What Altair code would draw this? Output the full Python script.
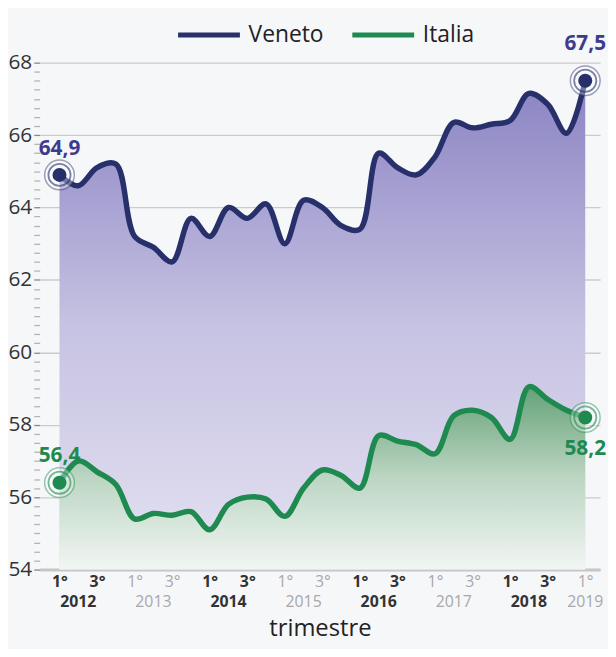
import altair as alt
import pandas as pd

series_names = ["Veneto", "Italia"]
series_colors = ["#27306b", "#1e8a4f"]
label_colors = ["#3d3b8e", "#1e8a4f"]
quarter_index = list(range(29))
veneto = [64.9, 64.6, 65.1, 65.2, 63.2, 62.9, 62.5, 63.7, 63.2, 64.0,
          63.7, 64.1, 63.0, 64.2, 64.0, 63.5, 63.4, 65.5, 65.1, 64.9,
          65.4, 66.35, 66.2, 66.3, 66.4, 67.15, 66.85, 66.05, 67.5]
italia = [56.4, 57.0, 56.7, 56.35, 55.4, 55.55, 55.5, 55.6, 55.1, 55.8,
          56.0, 55.95, 55.47, 56.25, 56.75, 56.6, 56.25, 57.7, 57.55, 57.45,
          57.2, 58.25, 58.4, 58.2, 57.6, 59.05, 58.7, 58.4, 58.2]
year_labels = ["2012", "2013", "2014", "2015", "2016", "2017", "2018", "2019"]
year_pos = [1, 5, 9, 13, 17, 21, 25, 28]
end_series = ["Veneto", "Veneto", "Italia", "Italia"]
end_q = [0, 28, 0, 28]
end_values = [64.9, 67.5, 56.4, 58.2]
end_text = ["64,9", "67,5", "56,4", "58,2"]
y_ticks = [round(54 + 0.25 * k, 2) for k in range(57)]
x_ticks = list(range(0, 29, 2))

FONT = "Open Sans"
W, H = 566, 512
CURVE = "catmull-rom"

df = pd.DataFrame({
    "q": quarter_index * 2,
    "serie": ["Veneto"] * 29 + ["Italia"] * 29,
    "value": veneto + italia,
})
ends = pd.DataFrame({"serie": end_series, "q": end_q, "value": end_values, "label": end_text})
years = pd.DataFrame({"year": year_labels, "q": year_pos,
                      "strong": [i % 2 == 0 for i in range(len(year_labels))]})

xscale = alt.Scale(domain=[-1.055, 28.79], nice=False, zero=False)
yscale = alt.Scale(domain=[54, 68], nice=False, zero=False)

x_axis = alt.Axis(
    values=x_ticks,
    labelExpr="datum.value % 4 === 0 ? '1°' : '3°'",
    labelFontSize=16, labelFont=FONT,
    labelColor={"condition": {"test": "floor(datum.value / 4) % 2 === 0", "value": "#333333"}, "value": "#a8a8a8"},
    labelFontWeight={"condition": {"test": "floor(datum.value / 4) % 2 === 0", "value": "bold"}, "value": "normal"},
    labelPadding=4, ticks=False, grid=False,
    domain=True, domainColor="#c6c6c6", domainWidth=3,
    title="trimestre", titleFontSize=24, titleFont=FONT, titleFontWeight="normal",
    titleColor="#222222", titlePadding=28, labelOverlap=False,
)
y_axis = alt.Axis(
    values=y_ticks,
    labelExpr="datum.value % 2 === 0 ? format(datum.value, 'd') : ''",
    labelFontSize=21, labelFont=FONT, labelColor="#333333", labelPadding=2,
    labelOverlap=False,
    gridOpacity={"condition": {"test": "datum.value % 2 === 0", "value": 1}, "value": 0},
    gridColor="#cccccc", gridWidth=1.3,
    tickColor={"condition": {"test": "datum.value % 2 === 0", "value": "#888888"}, "value": "#b5b5b5"},
    tickSize=6, tickWidth=1.3, domain=False, title=None,
)

base = alt.Chart(df)
X = alt.X("q:Q", scale=xscale, axis=x_axis)
Y = alt.Y("value:Q", scale=yscale, axis=y_axis)

grad_v = alt.LinearGradient(gradient="linear", x1=0, x2=0, y1=0, y2=1, stops=[
    alt.GradientStop(color="#8a83c3", offset=0),
    alt.GradientStop(color="#c6c2e2", offset=0.5),
    alt.GradientStop(color="#e4e2f2", offset=1),
])
grad_i = alt.LinearGradient(gradient="linear", x1=0, x2=0, y1=0, y2=1, stops=[
    alt.GradientStop(color="#65a177", offset=0),
    alt.GradientStop(color="#bcd6c3", offset=0.5),
    alt.GradientStop(color="#f2f6f3", offset=1),
])

area_v = base.transform_filter("datum.serie === 'Veneto'").mark_area(
    color=grad_v, interpolate=CURVE).encode(x=X, y=Y, y2=alt.datum(54))
area_i = base.transform_filter("datum.serie === 'Italia'").mark_area(
    color=grad_i, interpolate=CURVE).encode(x=X, y=Y, y2=alt.datum(54))

lines = base.mark_line(strokeWidth=5.5, interpolate=CURVE).encode(
    x=X, y=Y,
    color=alt.Color("serie:N", scale=alt.Scale(domain=series_names, range=series_colors),
                    legend=alt.Legend(
                        orient="none", legendX=137, legendY=-62, direction="horizontal",
                        title=None, symbolType="stroke", symbolSize=3900, symbolStrokeWidth=5,
                        labelFontSize=23, labelFont=FONT, labelColor="#222222",
                        labelOffset=6, columnPadding=18, padding=0)),
)

layers = [area_v, area_i, lines]
ebase = alt.Chart(ends)
for name, col in zip(series_names, series_colors):
    sel = ebase.transform_filter(f"datum.serie === '{name}'")
    layers.append(sel.mark_point(shape="circle", filled=True, size=900, color="#ffffff",
                                 opacity=0.35).encode(x=X, y=Y))
    layers.append(sel.mark_point(shape="circle", filled=False, size=900, strokeWidth=1.5,
                                 color=col, opacity=0.45).encode(x=X, y=Y))
    layers.append(sel.mark_point(shape="circle", filled=False, size=500, strokeWidth=1.8,
                                 color=col, opacity=0.6).encode(x=X, y=Y))
    layers.append(sel.mark_circle(size=200, color=col, opacity=1).encode(x=X, y=Y))

label_specs = [("Veneto", 0, -26, label_colors[0]), ("Veneto", 28, -37, label_colors[0]),
               ("Italia", 0, -27, label_colors[1]), ("Italia", 28, 32, label_colors[1])]
for name, qq, dy, col in label_specs:
    layers.append(ebase.transform_filter(f"datum.serie === '{name}' && datum.q === {qq}").mark_text(
        font=FONT, fontSize=21, fontWeight="bold", color=col, dy=dy
    ).encode(x=X, y=Y, text="label:N"))

ybase = alt.Chart(years)
layers.append(ybase.transform_filter("datum.strong").mark_text(
    font=FONT, fontSize=16, fontWeight="bold", color="#333333", baseline="middle"
).encode(x=X, y=alt.value(H + 33), text="year:N"))
layers.append(ybase.transform_filter("!datum.strong").mark_text(
    font=FONT, fontSize=16, fontWeight="normal", color="#a8a8a8", baseline="middle"
).encode(x=X, y=alt.value(H + 33), text="year:N"))

chart = alt.layer(*layers).properties(
    width=W, height=H,
    autosize=alt.AutoSizeParams(type="none"),
    padding={"left": 32, "top": 52, "right": 8, "bottom": 77},
    background="#f6f7f9",
).configure_view(stroke=None)

chart.save("out.html", embed_options={"renderer": "svg", "actions": False})
